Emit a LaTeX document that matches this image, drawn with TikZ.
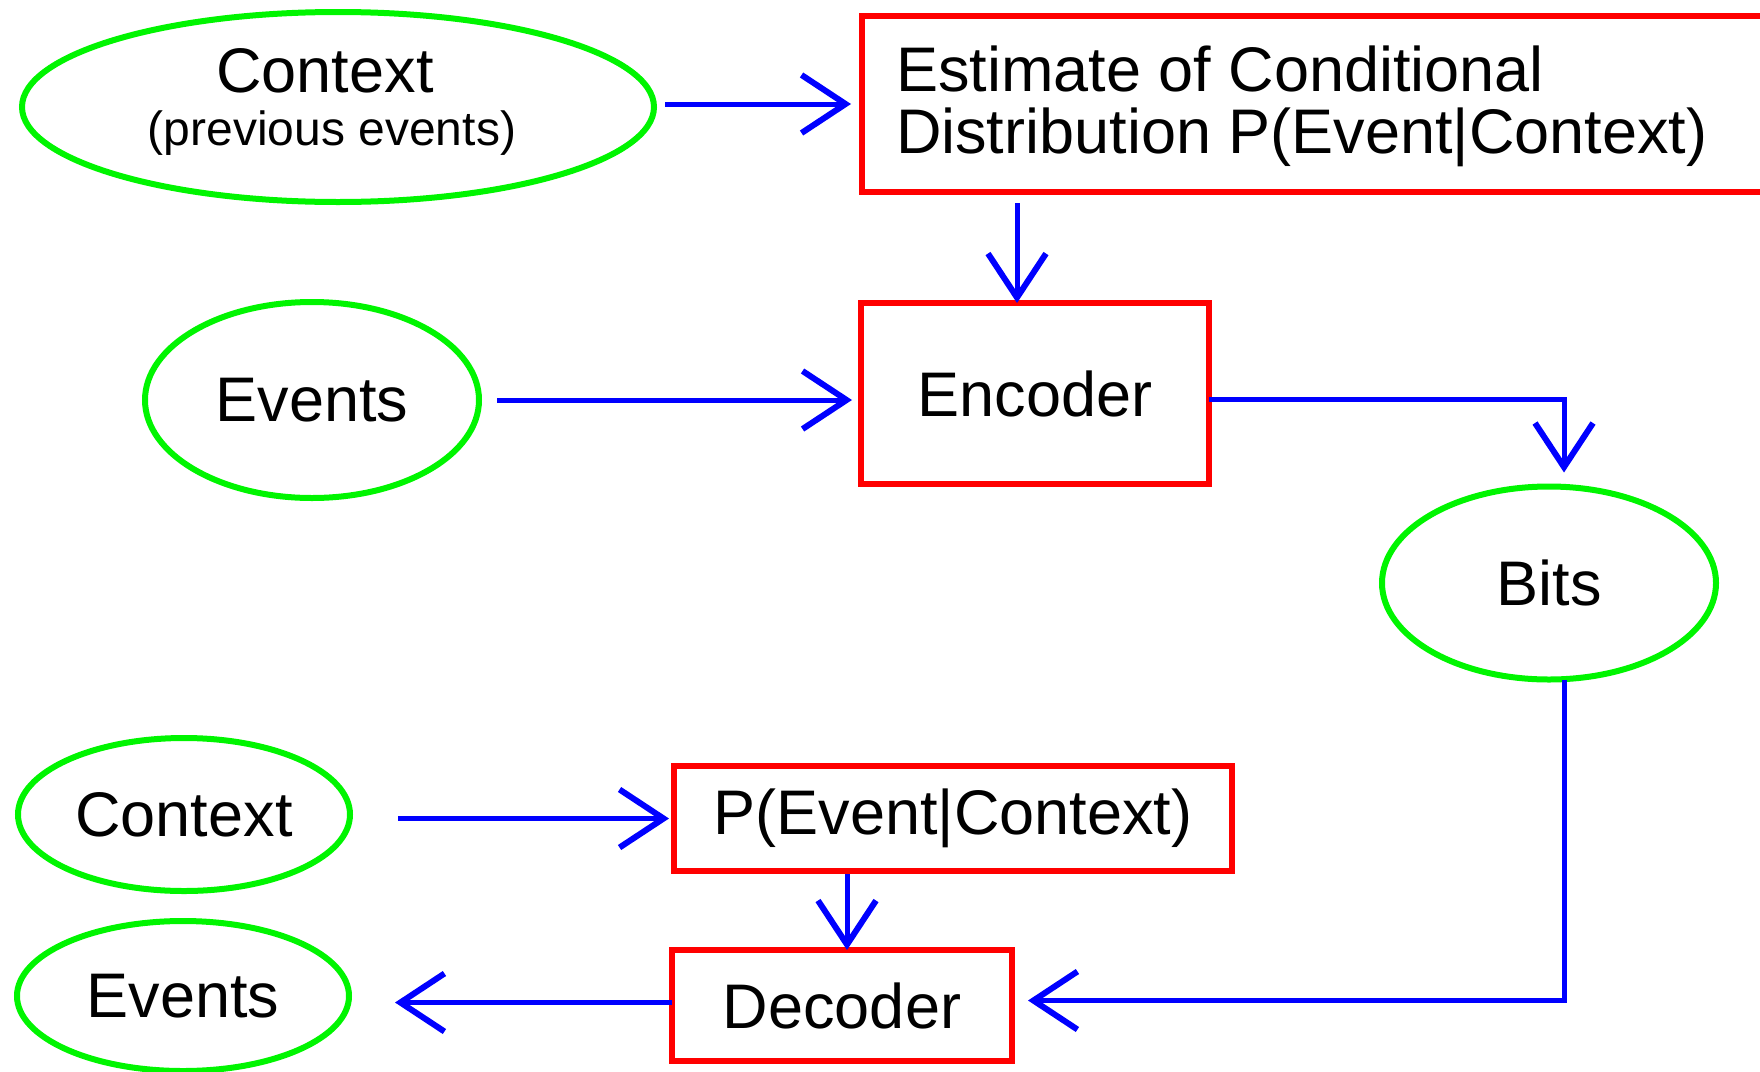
\documentclass[tikz,border=0pt]{standalone}
\usepackage{fontspec}
\setmainfont{Liberation Sans}
\usetikzlibrary{shapes.geometric,arrows.meta,calc}

\definecolor{ovalgreen}{RGB}{0,245,0}
\definecolor{boxred}{RGB}{255,0,0}
\definecolor{flowblue}{RGB}{0,0,255}

\tikzset{
  bigtext/.style={font=\fontsize{63}{63}\selectfont},
  oval/.style={ellipse, draw=ovalgreen, line width=6pt, inner sep=0pt, outer sep=0pt, bigtext},
  redbox/.style={rectangle, draw=boxred, line width=5.5pt, inner sep=0pt, outer sep=0pt, bigtext},
  flow/.style={draw=flowblue, line width=5pt, -{Straight Barb[length=44pt,width=58pt,line width=6pt]}},
  lbl/.style={inner sep=0pt, outer sep=0pt, anchor=base}
}

\begin{document}
\begin{tikzpicture}[x=1pt, y=-1pt]
  \useasboundingbox (0,0) rectangle (1760,1071);
  \clip (0,0) rectangle (1760,1071);

  % --- encoding side ---
  \node[oval, minimum width=632pt, minimum height=190pt] (ctx1) at (338,107) {};
  \node[lbl, bigtext] (ctxname) at (325,92) {Context};
  \node[lbl, font=\fontsize{48}{48}\selectfont] (ctxnote) at (332,145) {(previous events)};

  \node[redbox, anchor=north west, minimum width=1000pt, minimum height=176pt] (est) at (862,16) {};
  \node[lbl, bigtext, anchor=base west] (estA) at (896,91) {Estimate of Conditional};
  \node[lbl, bigtext, anchor=base west] (estB) at (896,153) {Distribution P(Event|Context)};

  \node[oval, minimum width=334pt, minimum height=196pt] (ev1) at (312,400) {Events};
  \node[redbox, minimum width=348pt, minimum height=181pt] (enc) at (1035,393.5) {Encoder};
  \node[oval, minimum width=334pt, minimum height=193pt] (bits) at (1549,583) {Bits};

  % --- decoding side ---
  \node[oval, minimum width=332pt, minimum height=153pt] (ctx2) at (184,814.5) {Context};
  \node[redbox, minimum width=558pt, minimum height=105pt] (pbox) at (953,818.5) {P(Event|Context)};
  \node[oval, minimum width=332pt, minimum height=150pt] (ev2) at (183,996) {Events};
  \node[redbox, minimum width=340pt, minimum height=111pt] (dec) at (842,1005.5) {Decoder};

  % --- connector end points ---
  \coordinate (encin) at ($(enc.north)+(-18,0)$);
  \coordinate (bitsin) at ($(bits.north)+(15,0)$);
  \coordinate (bitsout) at ($(bits.south)+(15,0)$);
  \coordinate (decin) at ($(dec.east)+(0,-5)$);
  \coordinate (decin2) at ($(dec.north)+(5,0)$);
  \coordinate (decout) at ($(dec.west)+(0,-3)$);

  % --- connectors ---
  \draw[flow, shorten <=11pt, shorten >=11pt] (ctx1.east |- est.west) -- (est.west);
  \draw[flow, shorten <=11pt] (encin |- est.south) -- (encin);
  \draw[flow, shorten <=18pt, shorten >=9pt] (ev1.east) -- (ev1.east -| enc.west);
  \draw[flow, shorten >=14pt] ($(enc.east)+(0,5.5)$) -| (bitsin);
  \draw[flow, shorten >=16pt] (bitsout) |- (decin);
  \draw[flow, shorten <=48pt, shorten >=5pt] (ctx2.east |- pbox.west) -- (pbox.west);
  \draw[flow, shorten <=3pt] (decin2 |- pbox.south) -- (decin2);
  \draw[flow, shorten >=46pt] (decout) -- (decout -| ev2.east);
\end{tikzpicture}
\end{document}
